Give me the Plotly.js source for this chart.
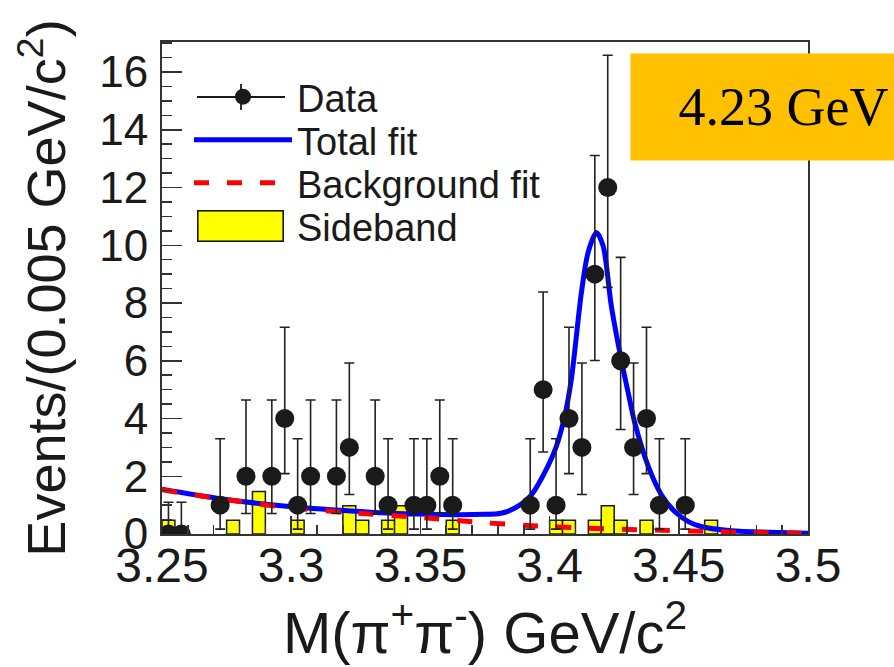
<!DOCTYPE html>
<html>
<head>
<meta charset="utf-8">
<script src="https://cdn.plot.ly/plotly-3.0.1.min.js"></script>
<style>html,body{margin:0;padding:0;background:#fff;}#chart{width:894px;height:667px;}</style>
</head>
<body>
<div id="chart"></div>
<script>
// ---- Data ----
const dataX = [3.2525, 3.2575, 3.2725, 3.2825, 3.2925, 3.2975, 3.3025, 3.3075, 3.3175, 3.3225,
               3.3325, 3.3375, 3.3475, 3.3525, 3.3575, 3.3625, 3.3925, 3.3975, 3.4025, 3.4075,
               3.4125, 3.4175, 3.4225, 3.4275, 3.4325, 3.4375, 3.4425, 3.4525];
const dataY = [0, 0, 1, 2, 2, 4, 1, 2, 2, 3,
               2, 1, 1, 1, 2, 1, 1, 5, 1, 4,
               3, 9, 12, 6, 3, 4, 1, 1];
const errUp = [1.1, 1.1, 2.3, 2.64, 2.64, 3.16, 2.3, 2.64, 2.64, 2.92,
               2.64, 2.3, 2.3, 2.3, 2.64, 2.3, 2.3, 3.38, 2.3, 3.16,
               2.92, 4.11, 4.58, 3.58, 2.92, 3.16, 2.3, 2.3];
const errDown = [0, 0, 0.83, 1.29, 1.29, 1.91, 0.83, 1.29, 1.29, 1.63,
                 1.29, 0.83, 0.83, 0.83, 1.29, 0.83, 0.83, 2.16, 0.83, 1.91,
                 1.63, 2.99, 3.46, 2.38, 1.63, 1.91, 0.83, 0.83];

const fitX = [3.25, 3.2712, 3.2971, 3.323, 3.3489, 3.3747, 3.3812, 3.3864, 3.3929, 3.3993,
              3.4026, 3.4058, 3.4084, 3.4123, 3.4149, 3.4181, 3.4207, 3.4239, 3.4278, 3.4304,
              3.433, 3.4382, 3.4433, 3.4485, 3.4537, 3.4589, 3.4705, 3.485, 3.5];
const fitY = [1.55, 1.24, 0.97, 0.80, 0.69, 0.68, 0.72, 0.89, 1.35, 2.34,
              3.03, 4.07, 5.35, 8.36, 9.75, 10.44, 9.98, 7.89, 6.0, 4.9,
              3.84, 2.34, 1.35, 0.77, 0.43, 0.25, 0.11, 0.06, 0.03];

const bkgX = [3.25, 3.2712, 3.2971, 3.323, 3.3489, 3.3747, 3.393, 3.4016, 3.41, 3.4245,
              3.4433, 3.46, 3.48, 3.5];
const bkgY = [1.53, 1.24, 0.93, 0.74, 0.58, 0.39, 0.29, 0.25, 0.22, 0.17,
              0.13, 0.09, 0.05, 0.02];

const sideX = [3.2525, 3.2775, 3.2875, 3.3025, 3.3225, 3.3275, 3.3375, 3.3425, 3.3625,
               3.4025, 3.4075, 3.4175, 3.4225, 3.4275, 3.4375, 3.4625];
const sideY = [0.48, 0.48, 1.47, 0.48, 0.98, 0.48, 0.48, 0.98, 0.48,
               0.48, 0.48, 0.48, 0.98, 0.48, 0.48, 0.48];
const binWidth = 0.005;

const xTickVals = [3.25, 3.3, 3.35, 3.4, 3.45, 3.5];
const xTickText = ['3.25', '3.3', '3.35', '3.4', '3.45', '3.5'];
const yTickVals = [0, 2, 4, 6, 8, 10, 12, 14, 16];
const yTickText = ['0', '2', '4', '6', '8', '10', '12', '14', '16'];

const seriesNames = ['Data', 'Total fit', 'Background fit', 'Sideband'];
const energyLabel = '4.23 GeV';

// ---- Styling ----
const FONT = 'Liberation Sans, Arial, Helvetica, sans-serif';
const ink = '#1a1a1a';
const legendFont = {family: FONT, size: 38, color: ink};

// paper coordinates of the plot area helpers (plot area: 162..808 px, 42..534 px)
const PX = (px) => (px - 162) / 646;
const PY = (py) => (534 - py) / 492;

function legendBox(yCenterPx) {
  return {
    x: PX(189), y: PY(yCenterPx), xanchor: 'left', yanchor: 'middle',
    bgcolor: 'rgba(0,0,0,0)', borderwidth: 0, font: legendFont, itemwidth: 98
  };
}

const traces = [
  {
    type: 'bar', x: sideX, y: sideY, width: binWidth, name: seriesNames[3], legend: 'legend4',
    marker: {color: '#ffff00', line: {color: ink, width: 1.5}},
    hoverinfo: 'skip'
  },
  {
    type: 'scatter', mode: 'lines', x: fitX, y: fitY, name: seriesNames[1], legend: 'legend2',
    line: {color: '#0000ff', width: 5, shape: 'spline', smoothing: 0.8}
  },
  {
    type: 'scatter', mode: 'lines', x: bkgX, y: bkgY, name: seriesNames[2], legend: 'legend3',
    line: {color: '#ff0000', width: 5, dash: '15px,18px', shape: 'spline', smoothing: 0.8}
  },
  {
    type: 'scatter', mode: 'markers', x: dataX, y: dataY, name: seriesNames[0], legend: 'legend',
    marker: {color: ink, size: 19},
    error_y: {type: 'data', symmetric: false, array: errUp, arrayminus: errDown,
              color: '#222', thickness: 1.6, width: 5}
  }
];

const layout = {
  width: 894, height: 667,
  margin: {l: 162, r: 86, t: 42, b: 133},
  paper_bgcolor: '#fff', plot_bgcolor: '#fff',
  font: {family: FONT, color: ink},
  barmode: 'overlay', bargap: 0,
  showlegend: true,
  legend: legendBox(97),
  legend2: legendBox(140),
  legend3: legendBox(183),
  legend4: legendBox(226),
  xaxis: {
    range: [3.25, 3.5], tickmode: 'array', tickvals: xTickVals, ticktext: xTickText,
    showline: true, linecolor: '#333', linewidth: 2, mirror: true,
    ticks: 'inside', ticklen: 18, tickwidth: 1.5, tickcolor: '#333',
    minor: {tickmode: 'linear', tick0: 3.25, dtick: 0.01, ticks: 'inside', ticklen: 9, tickwidth: 1.5, tickcolor: '#333'},
    showgrid: false, zeroline: false,
    tickfont: {family: FONT, size: 48, color: ink},
    ticklabelstandoff: -12,
    title: {text: 'M(π<sup>+</sup>π<sup>-</sup>) GeV/c<sup>2</sup>', font: {family: FONT, size: 58, color: ink}, standoff: 14}
  },
  yaxis: {
    range: [0, 17.04], tickmode: 'array', tickvals: yTickVals, ticktext: yTickText,
    showline: true, linecolor: '#333', linewidth: 2, mirror: true,
    ticks: 'inside', ticklen: 20, tickwidth: 1.5, tickcolor: '#333',
    minor: {tickmode: 'linear', tick0: 0, dtick: 0.5, ticks: 'inside', ticklen: 10, tickwidth: 1.5, tickcolor: '#333'},
    showgrid: false, zeroline: false,
    tickfont: {family: FONT, size: 44, color: ink},
    ticklabelstandoff: 3,
    title: {text: 'Events/(0.005 GeV/c<sup>2</sup>)', font: {family: FONT, size: 54, color: ink}, standoff: 16}
  },
  shapes: [
    // legend key decoration for "Data": horizontal line and error bar through the marker
    {type: 'line', xref: 'paper', yref: 'paper', x0: PX(197), x1: PX(285), y0: PY(97), y1: PY(97),
     line: {color: ink, width: 1.8}, layer: 'above'},
    {type: 'line', xref: 'paper', yref: 'paper', x0: PX(241), x1: PX(241), y0: PY(84), y1: PY(110),
     line: {color: ink, width: 1.8}, layer: 'above'}
  ],
  annotations: [
    {
      // legend key for "Sideband" (large yellow box like the reference)
      text: ' ', xref: 'paper', yref: 'paper', x: PX(240.5), y: PY(226),
      xanchor: 'center', yanchor: 'middle', width: 84, height: 29, borderpad: 0,
      bgcolor: '#ffff00', bordercolor: ink, borderwidth: 1.6, showarrow: false
    },
    {
      text: energyLabel, xref: 'paper', yref: 'paper',
      x: PX(630), y: PY(53), xanchor: 'left', yanchor: 'top',
      width: 305, height: 106, align: 'center', valign: 'middle',
      bgcolor: '#ffc000', borderpad: 0, showarrow: false,
      font: {family: 'Liberation Serif, Times New Roman, serif', size: 54, color: '#000'}
    }
  ]
};

Plotly.newPlot('chart', traces, layout, {displayModeBar: false, staticPlot: true});
</script>
</body>
</html>
